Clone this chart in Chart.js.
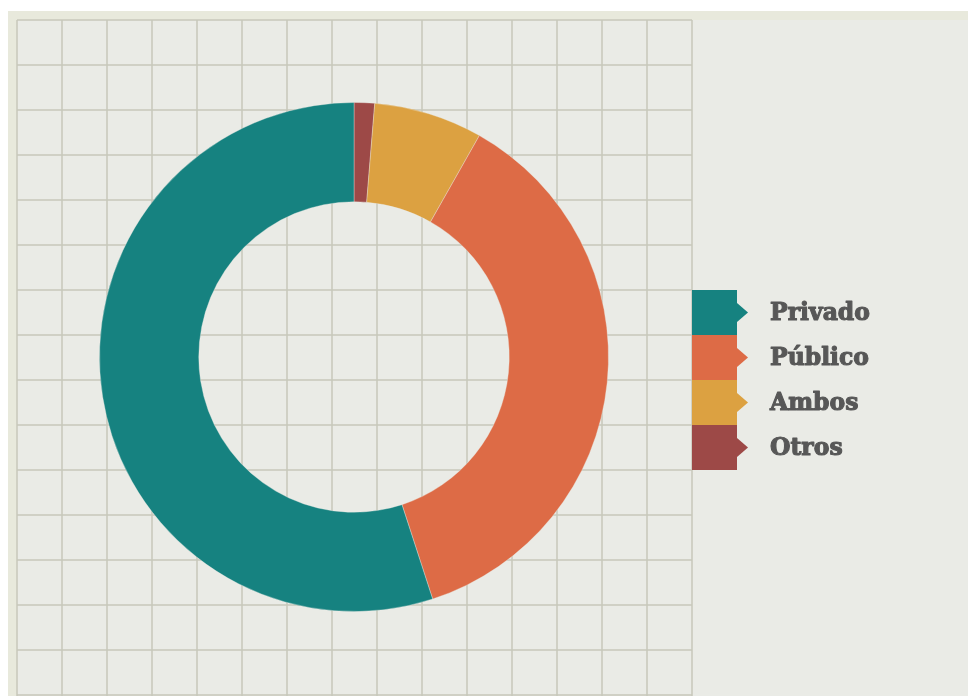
<!DOCTYPE html>
<html>
<head>
<meta charset="utf-8">
<script src="https://cdn.jsdelivr.net/npm/chart.js@4.4.1/dist/chart.umd.min.js"></script>
<style>
  html, body { margin: 0; padding: 0; background: #ffffff; }
  #wrap { width: 968px; height: 696px; position: relative; }
</style>
</head>
<body>
<div id="wrap"><canvas id="donut"></canvas></div>
<script>
// Chart data (legend order)
var categories = ["Privado", "Público", "Ambos", "Otros"];
var shares = [55.0, 36.8, 6.9, 1.3];
var colors = ["#168280", "#dd6b46", "#dca141", "#9d4947"];

// Background: beige frame, panel and square grid
var backdrop = {
    id: "backdrop",
    beforeDraw: function (chart) {
        var ctx = chart.ctx;
        ctx.save();
        ctx.fillStyle = "#ffffff";
        ctx.fillRect(0, 0, chart.width, chart.height);
        ctx.fillStyle = "#e8e9dc";
        ctx.fillRect(8, 11, chart.width - 8, chart.height - 11);
        ctx.fillStyle = "#eaebe6";
        ctx.fillRect(17, 20, chart.width - 17, chart.height - 20);

        ctx.strokeStyle = "#c7c8ba";
        ctx.lineWidth = 1.5;
        var step = 45, x0 = 17, y0 = 20, x1 = 692, y1 = 696;
        ctx.beginPath();
        for (var x = x0; x <= x1 + 0.5; x += step) {
            ctx.moveTo(x, y0);
            ctx.lineTo(x, y1);
        }
        for (var y = y0; y <= y1 + 0.5; y += step) {
            ctx.moveTo(x0, y);
            ctx.lineTo(x1, y);
        }
        ctx.stroke();
        ctx.restore();
    }
};

// Legend: coloured blocks with a little arrow, bold labels
var blockLegend = {
    id: "blockLegend",
    afterDraw: function (chart) {
        var ctx = chart.ctx;
        var left = 692, top = 290, size = 45;
        ctx.save();
        categories.forEach(function (name, i) {
            var y = top + i * size;
            var cy = y + size / 2;
            ctx.fillStyle = colors[i];
            ctx.fillRect(left, y, size, size);
            ctx.beginPath();
            ctx.moveTo(left + size, cy - 9.5);
            ctx.lineTo(left + size + 11, cy);
            ctx.lineTo(left + size, cy + 9.5);
            ctx.closePath();
            ctx.fill();

            ctx.fillStyle = "#575757";
            ctx.strokeStyle = "#575757";
            ctx.lineWidth = 1.1;
            ctx.lineJoin = "round";
            ctx.font = "bold 23.5px 'DejaVu Serif'";
            ctx.textAlign = "left";
            ctx.textBaseline = "alphabetic";
            ctx.fillText(name, 770, cy + 7.5);
            ctx.strokeText(name, 770, cy + 7.5);
        });
        ctx.restore();
    }
};

var ctx = document.getElementById("donut").getContext("2d");
var myChart = new Chart(ctx, {
    type: "doughnut",
    data: {
        labels: categories.slice().reverse(),
        datasets: [{
            data: shares.slice().reverse(),
            backgroundColor: colors.slice().reverse(),
            borderColor: "rgba(234, 235, 230, 0.35)",
            borderWidth: 1
        }]
    },
    options: {
        responsive: true,
        maintainAspectRatio: false,
        animation: false,
        cutout: "61%",
        layout: {
            padding: { left: 99, right: 359, top: 102, bottom: 84 }
        },
        plugins: {
            legend: { display: false },
            tooltip: { enabled: false }
        }
    },
    plugins: [backdrop, blockLegend]
});
</script>
</body>
</html>
